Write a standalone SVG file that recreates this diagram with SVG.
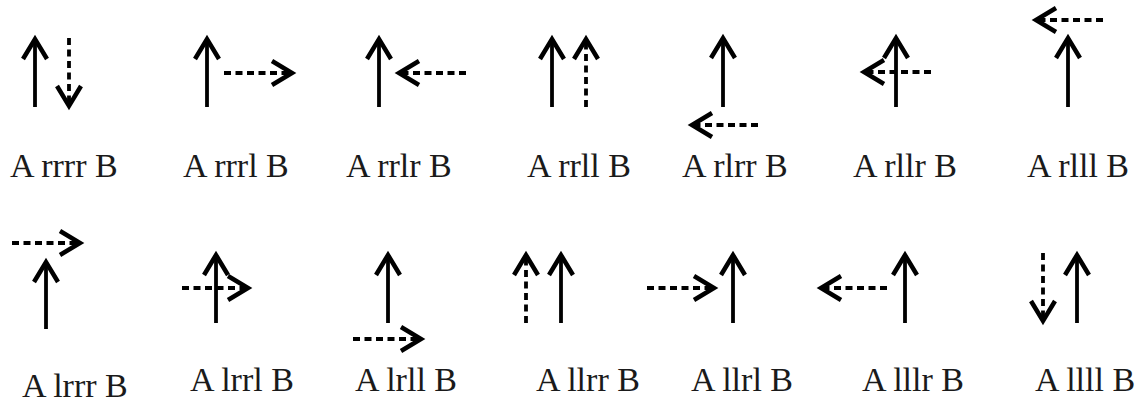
<svg xmlns="http://www.w3.org/2000/svg" xmlns:xlink="http://www.w3.org/1999/xlink" width="1145" height="404" viewBox="0 0 1145 404">
<style>
.s{stroke:#000;stroke-width:3.8;fill:none}
.d{stroke:#000;stroke-width:3.8;fill:none;stroke-dasharray:7 4.5}
.h{stroke:#000;stroke-width:4.5;fill:none;stroke-linejoin:miter}
text{font-family:"Liberation Serif","Times New Roman",serif;font-size:34px;fill:#1a1a1a}
</style>
<defs>
<path id="hu" d="M-12,20 L0,0 L12,20"/>
<path id="hd" d="M-12,-20 L0,0 L12,-20"/>
<path id="hr" d="M-20,-12 L0,0 L-20,12"/>
<path id="hl" d="M20,-12 L0,0 L20,12"/>
</defs>
<rect width="1145" height="404" fill="#fff"/>
<g id="connectors">
<g id="n-rrrr"><path class="s" d="M35,107V40"/><use class="h" href="#hu" xlink:href="#hu" x="35" y="39"/><path class="d" d="M69,38V104"/><use class="h" href="#hd" xlink:href="#hd" x="69" y="106"/></g>
<g id="n-rrrl"><path class="s" d="M207,107V40"/><use class="h" href="#hu" xlink:href="#hu" x="207" y="39"/><path class="d" d="M224,73H290"/><use class="h" href="#hr" xlink:href="#hr" x="292" y="73"/></g>
<g id="n-rrlr"><path class="s" d="M379,107V40"/><use class="h" href="#hu" xlink:href="#hu" x="379" y="39"/><path class="d" d="M466,73H401"/><use class="h" href="#hl" xlink:href="#hl" x="399" y="73"/></g>
<g id="n-rrll"><path class="s" d="M552,107V40"/><use class="h" href="#hu" xlink:href="#hu" x="552" y="39"/><path class="d" d="M586,107V41"/><use class="h" href="#hu" xlink:href="#hu" x="586" y="39"/></g>
<g id="n-rlrr"><path class="s" d="M723,107V39"/><use class="h" href="#hu" xlink:href="#hu" x="723" y="38"/><path class="d" d="M758,125H694"/><use class="h" href="#hl" xlink:href="#hl" x="692" y="125"/></g>
<g id="n-rllr"><path class="s" d="M896,107V39"/><use class="h" href="#hu" xlink:href="#hu" x="896" y="38"/><path class="d" d="M931,72H866"/><use class="h" href="#hl" xlink:href="#hl" x="864" y="72"/></g>
<g id="n-rlll"><path class="s" d="M1068,107V39"/><use class="h" href="#hu" xlink:href="#hu" x="1068" y="38"/><path class="d" d="M1103,20H1038"/><use class="h" href="#hl" xlink:href="#hl" x="1036" y="20"/></g>
<g id="n-lrrr"><path class="s" d="M46,329V263"/><use class="h" href="#hu" xlink:href="#hu" x="46" y="262"/><path class="d" d="M12,243H78"/><use class="h" href="#hr" xlink:href="#hr" x="80" y="243"/></g>
<g id="n-lrrl"><path class="s" d="M216,323V256"/><use class="h" href="#hu" xlink:href="#hu" x="216" y="255"/><path class="d" d="M182,288H246"/><use class="h" href="#hr" xlink:href="#hr" x="248" y="288"/></g>
<g id="n-lrll"><path class="s" d="M388,323V256"/><use class="h" href="#hu" xlink:href="#hu" x="388" y="255"/><path class="d" d="M353,339H419"/><use class="h" href="#hr" xlink:href="#hr" x="421" y="339"/></g>
<g id="n-llrr"><path class="d" d="M526,323V257"/><use class="h" href="#hu" xlink:href="#hu" x="526" y="255"/><path class="s" d="M561,323V256"/><use class="h" href="#hu" xlink:href="#hu" x="561" y="255"/></g>
<g id="n-llrl"><path class="d" d="M647,288H712"/><use class="h" href="#hr" xlink:href="#hr" x="714" y="288"/><path class="s" d="M733,323V256"/><use class="h" href="#hu" xlink:href="#hu" x="733" y="255"/></g>
<g id="n-lllr"><path class="d" d="M887,288H823"/><use class="h" href="#hl" xlink:href="#hl" x="821" y="288"/><path class="s" d="M905,323V256"/><use class="h" href="#hu" xlink:href="#hu" x="905" y="255"/></g>
<g id="n-llll"><path class="d" d="M1043,253V319"/><use class="h" href="#hd" xlink:href="#hd" x="1043" y="321"/><path class="s" d="M1077,323V256"/><use class="h" href="#hu" xlink:href="#hu" x="1077" y="255"/></g>
</g>
<g id="labels">
<text id="t-rrrr" x="10" y="177">A rrrr B</text>
<text id="t-rrrl" x="183" y="177">A rrrl B</text>
<text id="t-rrlr" x="346" y="177">A rrlr B</text>
<text id="t-rrll" x="527" y="177">A rrll B</text>
<text id="t-rlrr" x="682" y="177">A rlrr B</text>
<text id="t-rllr" x="853" y="177">A rllr B</text>
<text id="t-rlll" x="1027" y="177">A rlll B</text>
<text id="t-lrrr" x="22" y="397">A lrrr B</text>
<text id="t-lrrl" x="190" y="391">A lrrl B</text>
<text id="t-lrll" x="355" y="391">A lrll B</text>
<text id="t-llrr" x="536" y="391">A llrr B</text>
<text id="t-llrl" x="691" y="391">A llrl B</text>
<text id="t-lllr" x="862" y="391">A lllr B</text>
<text id="t-llll" x="1035" y="391">A llll B</text>
</g>
</svg>
